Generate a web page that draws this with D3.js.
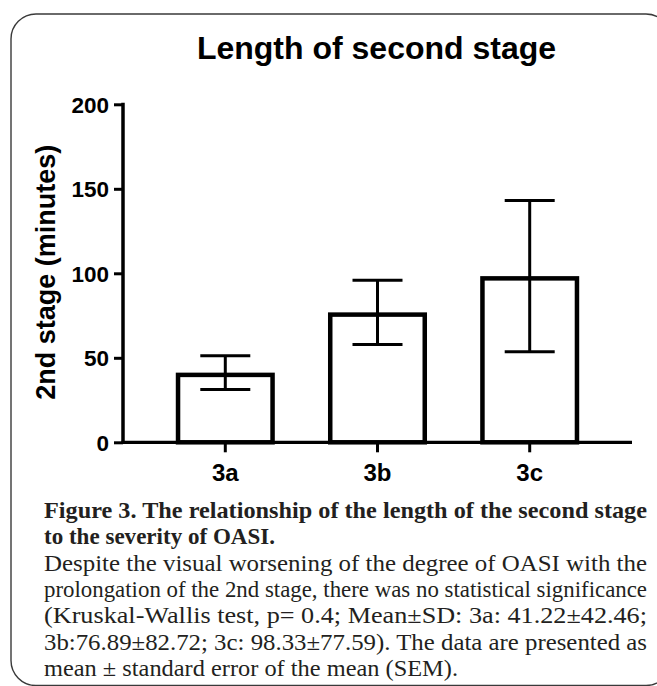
<!DOCTYPE html>
<html><head><meta charset="utf-8">
<script src="https://cdn.jsdelivr.net/npm/d3@7"></script>
<style>body{margin:0;background:#fff}svg{display:block}</style>
</head><body>
<script>
const categories = ["3a", "3b", "3c"];
const means = [41.22, 76.89, 98.33];
const sems = [10.0, 19.0, 44.8];
const yTicks = [0, 50, 100, 150, 200];
const chartTitle = "Length of second stage";
const yLabel = "2nd stage (minutes)";
const captionBold = ["Figure 3. The relationship of the length of the second stage", "to the severity of OASI."];
const captionBody = [
  "Despite the visual worsening of the degree of OASI with the",
  "prolongation of the 2nd stage, there was no statistical significance",
  "(Kruskal-Wallis test, p= 0.4; Mean±SD: 3a: 41.22±42.46;",
  "3b:76.89±82.72; 3c: 98.33±77.59). The data are presented as",
  "mean ± standard error of the mean (SEM)."
];

const W = 657, H = 686;
const svg = d3.select("body").append("svg").attr("width", W).attr("height", H);

// frame
svg.append("rect").attr("x", 11).attr("y", 14).attr("width", 660).attr("height", 671.5)
  .attr("rx", 25).attr("ry", 25).attr("fill", "none").attr("stroke", "#3a3a3a").attr("stroke-width", 1.4);

const sans = "'Liberation Sans', Arial, sans-serif";
const x = d3.scaleBand().domain(categories).range([123, 632]).paddingInner(0.379).paddingOuter(0.3616);
const y = d3.scaleLinear().domain([0, 200]).range([442.3, 104.3]);

svg.append("text").attr("x", 376.5).attr("y", 59.3).attr("text-anchor", "middle")
  .attr("font-family", sans).attr("font-weight", "bold").attr("font-size", 32).text(chartTitle);

// bars
const sw = 4.5;
svg.append("g").selectAll("rect.bar").data(categories).join("rect").attr("class", "bar")
  .attr("x", d => x(d)).attr("width", x.bandwidth())
  .attr("y", (d, i) => y(means[i]) + sw / 2)
  .attr("height", (d, i) => y(0) - y(means[i]) - sw / 2)
  .attr("fill", "none").attr("stroke", "#000").attr("stroke-width", sw);

// error bars
const cap = 25;
categories.forEach((c, i) => {
  const cx = x(c) + x.bandwidth() / 2;
  const t = y(means[i] + sems[i]), b = y(means[i] - sems[i]);
  const eg = svg.append("g").attr("stroke", "#000").attr("stroke-width", 3);
  eg.append("line").attr("x1", cx).attr("x2", cx).attr("y1", t).attr("y2", b);
  eg.append("line").attr("x1", cx - cap).attr("x2", cx + cap).attr("y1", t).attr("y2", t);
  eg.append("line").attr("x1", cx - cap).attr("x2", cx + cap).attr("y1", b).attr("y2", b);
});

// y axis
const ya = svg.append("g").attr("transform", "translate(123,0)")
  .call(d3.axisLeft(y).tickValues(yTicks).tickSize(9).tickPadding(5).tickSizeOuter(0));
ya.select(".domain").attr("stroke-width", 3.5).attr("d", `M0,${y(200) - 1.5}V${y(0) + 1.6}`);
ya.selectAll(".tick line").attr("stroke-width", 3);
ya.selectAll(".tick text").attr("font-family", sans).attr("font-weight", "bold").attr("font-size", 22.5).attr("fill", "#000").attr("dy", "0.36em");

// x axis
const xa = svg.append("g").attr("transform", `translate(0,${y(0)})`)
  .call(d3.axisBottom(x).tickSize(10).tickPadding(12).tickSizeOuter(0));
xa.select(".domain").attr("stroke-width", 3.3).attr("d", "M121.5,0H632");
xa.selectAll(".tick line").attr("stroke-width", 3);
xa.selectAll(".tick text").attr("font-family", sans).attr("font-weight", "bold").attr("font-size", 24).attr("fill", "#000");

// y label
svg.append("text").attr("transform", "translate(55,272.3) rotate(-90)").attr("text-anchor", "middle")
  .attr("font-family", sans).attr("font-weight", "bold").attr("font-size", 27).text(yLabel);

// caption
const serif = "'Liberation Serif', 'Times New Roman', serif";
const cx0 = 44, cRight = 647, lh = 26.3, base0 = 518;
const widths = [cRight - cx0, 231, cRight - cx0, cRight - cx0, cRight - cx0, cRight - cx0, 414];
const lines = captionBold.map(t => ({t, bold: true}))
  .concat(captionBody.map(t => ({t, bold: false})));
svg.append("g").selectAll("text").data(lines).join("text")
  .attr("x", cx0).attr("y", (d, i) => base0 + i * lh)
  .attr("font-family", serif).attr("font-size", 23)
  .attr("font-weight", d => d.bold ? "bold" : "normal").attr("fill", "#231f20")
  .attr("textLength", (d, i) => widths[i]).attr("lengthAdjust", "spacingAndGlyphs")
  .text(d => d.t);
</script>
</body></html>
